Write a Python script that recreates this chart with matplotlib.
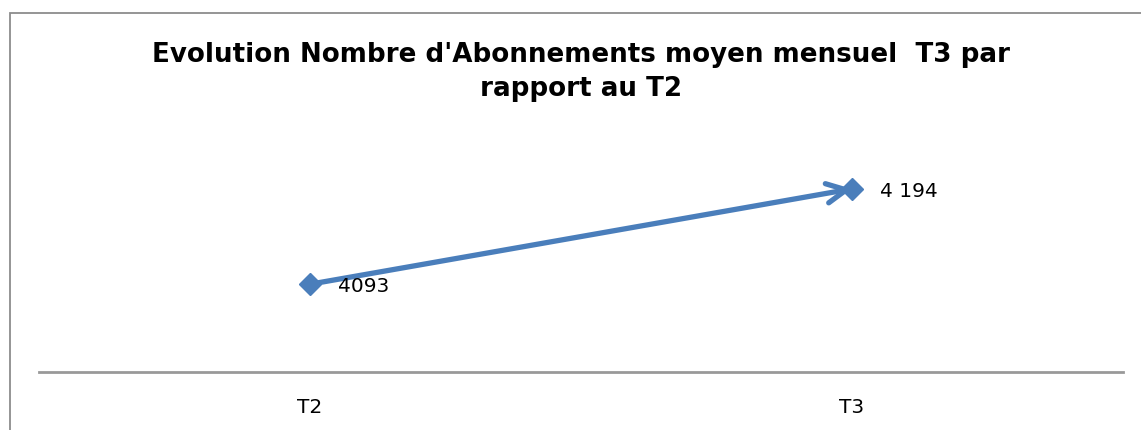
import matplotlib.pyplot as plt
from matplotlib.patches import Rectangle

# data
periods = ['T2', 'T3']
abonnements = [4093, 4194]
value_labels = ['4093', '4 194']

blue = '#4a7ebb'

fig = plt.figure(figsize=(11.41, 4.30), dpi=100)

# outer chart border (cut at the right and bottom edges)
fig.patches.append(Rectangle((10 / 1141, -0.05), 1.1, 1 - 13 / 430 + 0.05,
                             transform=fig.transFigure, fill=False,
                             edgecolor='#8c8c8c', linewidth=1.3))

ax = fig.add_axes([39 / 1141, 58 / 430, (1123 - 39) / 1141, (372 - 136) / 430])
ax.set_xlim(-0.5, len(periods) - 0.5)
ax.set_ylim(4000, 4250)

x = list(range(len(periods)))

# line with arrow head towards last point
ax.annotate('', xy=(x[1], abonnements[1]), xytext=(x[0], abonnements[0]),
            arrowprops=dict(arrowstyle='->,head_length=1.4,head_width=0.7',
                            lw=3.8, color=blue, shrinkA=0, shrinkB=0))
ax.plot(x, abonnements, linestyle='none', marker='D', markersize=11,
        color=blue, zorder=3)

for xi, v, lab in zip(x, abonnements, value_labels):
    ax.annotate(lab, (xi, v), xytext=(20, -2), textcoords='offset points',
                fontsize=14.5, va='center', ha='left')

ax.set_xticks(x)
ax.set_xticklabels(periods, fontsize=14.5)
ax.tick_params(axis='x', length=0, pad=19)
ax.set_yticks([])
for s in ['top', 'left', 'right']:
    ax.spines[s].set_visible(False)
ax.spines['bottom'].set_color('#999999')
ax.spines['bottom'].set_linewidth(2)

fig.text(581 / 1141, 1 - 72 / 430,
         "Evolution Nombre d'Abonnements moyen mensuel  T3 par\nrapport au T2",
         ha='center', va='center', fontsize=18.8, fontweight='bold',
         linespacing=1.4)

fig.savefig('out.png', dpi=100)
